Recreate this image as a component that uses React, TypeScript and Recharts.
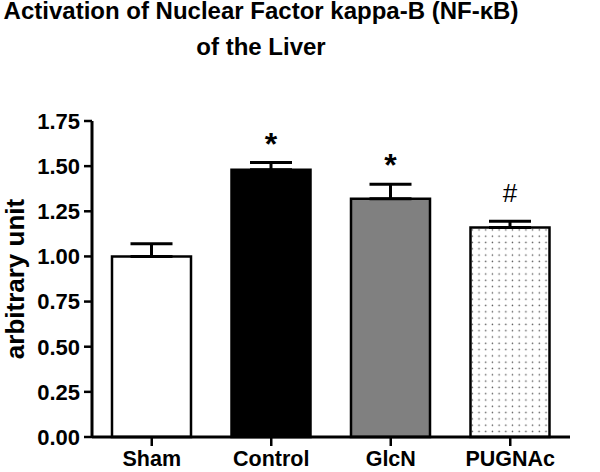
import React from 'react';
import { BarChart, Bar, XAxis, YAxis, ErrorBar, Cell, LabelList } from 'recharts';

// values
const groups = ['Sham', 'Control', 'GlcN', 'PUGNAc'];
const means = [1.0, 1.48, 1.32, 1.16];
const sems = [0.07, 0.04, 0.08, 0.035];
const marks = ['', '*', '*', '#'];
const yTicks = [0, 0.25, 0.5, 0.75, 1.0, 1.25, 1.5, 1.75];
const titleLines = ['Activation of Nuclear Factor kappa-B (NF-κB)', 'of the Liver'];

const fills = ['#ffffff', '#000000', '#808080', 'url(#dots)'];
const FONT = '"Liberation Sans", Arial, sans-serif';

const data = groups.map((g, i) => ({
  group: g,
  mean: means[i],
  err: [0, sems[i]],
  mark: marks[i],
}));

// significance marks sit above the error bar caps
function MarkLabel(props: any) {
  const { x, y, width, height, index, value } = props;
  if (!value) return null;
  const pxPerUnit = height / means[index];
  const capY = y - sems[index] * pxPerUnit;
  const isStar = value === '*';
  return (
    <text
      x={x + width / 2}
      y={isStar ? capY - 8 : capY - 19}
      textAnchor="middle"
      fontFamily={FONT}
      fontSize={isStar ? 32 : 26}
      fontWeight={isStar ? 700 : 400}
      fill="#000"
    >
      {value}
    </text>
  );
}

export default function App() {
  return (
    <div style={{ position: 'absolute', left: 0, top: 0, width: 600, height: 472, background: '#fff', fontFamily: FONT }}>
      {titleLines.map((t, i) => (
        <div
          key={t}
          style={{
            position: 'absolute',
            left: 0,
            top: i * 36,
            width: 522,
            textAlign: 'center',
            fontSize: 24,
            fontWeight: 700,
            lineHeight: '22px',
            color: '#000',
          }}
        >
          {t}
        </div>
      ))}
      <BarChart
        width={600}
        height={472}
        data={data}
        margin={{ top: 121, right: 30, bottom: 0, left: 0 }}
        barSize={79}
      >
        <defs>
          <pattern id="dots" patternUnits="userSpaceOnUse" width={6.7} height={6.3}>
            <rect width={6.7} height={6.3} fill="#ffffff" />
            <circle cx={3.3} cy={3.1} r={0.75} fill="#555" />
          </pattern>
        </defs>
        <XAxis
          dataKey="group"
          height={35}
          tickSize={9}
          tickMargin={5}
          axisLine={{ stroke: '#000', strokeWidth: 3 }}
          tickLine={{ stroke: '#000', strokeWidth: 2.5 }}
          tick={{ fill: '#000', fontSize: 21.5, fontWeight: 700, fontFamily: FONT }}
          interval={0}
        />
        <YAxis
          width={92}
          domain={[0, 1.75]}
          ticks={yTicks}
          tickSize={8}
          tickMargin={4}
          tickFormatter={(v: number) => v.toFixed(2)}
          axisLine={{ stroke: '#000', strokeWidth: 3 }}
          tickLine={{ stroke: '#000', strokeWidth: 2.5 }}
          tick={{ fill: '#000', fontSize: 22, fontWeight: 700, fontFamily: FONT }}
          label={{
            value: 'arbitrary unit',
            angle: -90,
            position: 'insideLeft',
            offset: 15,
            style: { fill: '#000', fontSize: 26, fontWeight: 700, fontFamily: FONT, textAnchor: 'middle' },
          }}
        />
        <Bar dataKey="mean" stroke="#000" strokeWidth={2.5} isAnimationActive={false}>
          {data.map((d, i) => (
            <Cell key={d.group} fill={fills[i]} />
          ))}
          <ErrorBar dataKey="err" direction="y" width={21} stroke="#000" strokeWidth={3} />
          <LabelList dataKey="mark" content={MarkLabel} />
        </Bar>
      </BarChart>
    </div>
  );
}
